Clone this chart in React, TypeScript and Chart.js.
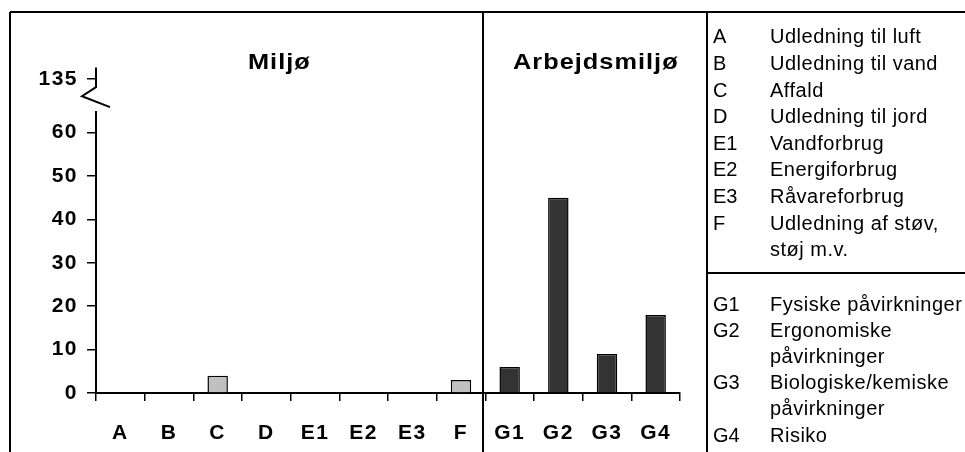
import React, { useEffect, useRef } from "react";
import { Chart, registerables } from "chart.js";

Chart.register(...registerables);

// ---- data ----
const categories = ["A", "B", "C", "D", "E1", "E2", "E3", "F", "G1", "G2", "G3", "G4"];
const values = [0, 0, 4, 0, 0, 0, 0, 3, 6, 45, 9, 18];
const groupOf = ["env", "env", "env", "env", "env", "env", "env", "env", "work", "work", "work", "work"];
const yTickValues = [0, 10, 20, 30, 40, 50, 60];
const breakTickValue = 72.4;
const breakTickLabel = "135";
const yMax = 75;
const breakFrom = 70.5;
const breakTo = 65;
const sectionTitles = ["Miljø", "Arbejdsmiljø"];
const legendTopCodes = ["A", "B", "C", "D", "E1", "E2", "E3", "F", ""];
const legendTopTexts = [
  "Udledning til luft",
  "Udledning til vand",
  "Affald",
  "Udledning til jord",
  "Vandforbrug",
  "Energiforbrug",
  "Råvareforbrug",
  "Udledning af støv,",
  "støj m.v.",
];
const legendBottomCodes = ["G1", "G2", "", "G3", "", "G4"];
const legendBottomTexts = [
  "Fysiske påvirkninger",
  "Ergonomiske",
  "påvirkninger",
  "Biologiske/kemiske",
  "påvirkninger",
  "Risiko",
];

const envColor = "#c0c0c0";
const workColor = "#333333";
const FONT = "'Liberation Sans', Arial, Helvetica, sans-serif";

const spacingPlugin = {
  id: "tickSpacing",
  beforeDraw(chart: any) {
    (chart.ctx as any).letterSpacing = "1.5px";
  },
  beforeDatasetsDraw(chart: any) {
    (chart.ctx as any).letterSpacing = "0px";
  },
};

const framePlugin = {
  id: "frame",
  afterDraw(chart: any) {
    const ctx = chart.ctx as CanvasRenderingContext2D;
    (ctx as any).letterSpacing = "0px";
    const ys = chart.scales.y;
    const area = chart.chartArea;
    const line = (x1: number, y1: number, x2: number, y2: number) => {
      ctx.beginPath();
      ctx.moveTo(x1, y1);
      ctx.lineTo(x2, y2);
      ctx.stroke();
    };
    ctx.save();
    ctx.strokeStyle = "#000";
    ctx.lineWidth = 2;
    // outer frame and dividers
    line(10, 12, 965, 12);
    line(10, 12, 10, 452);
    line(483, 12, 483, 452);
    line(707, 12, 707, 452);
    line(707, 273, 965, 273);

    // y axis with break
    const ax = area.left;
    const pTop = area.top;
    const p1 = ys.getPixelForValue(breakFrom);
    const p2 = ys.getPixelForValue(breakTo);
    const pBot = ys.getPixelForValue(0);
    const gap = p2 - p1;
    ctx.beginPath();
    ctx.moveTo(ax, pTop);
    ctx.lineTo(ax, p1);
    ctx.lineTo(ax - 14, p1 + gap * 0.38);
    ctx.lineTo(ax + 14, p1 + gap * 0.84);
    ctx.stroke();
    ctx.beginPath();
    ctx.moveTo(ax, p2);
    ctx.lineTo(ax, pBot);
    ctx.stroke();

    // section titles (horizontally widened like the source)
    ctx.fillStyle = "#000";
    ctx.textBaseline = "alphabetic";
    ctx.textAlign = "left";
    ctx.font = `bold 22px ${FONT}`;
    const sx = 1.15;
    ctx.save();
    ctx.scale(sx, 1);
    (ctx as any).letterSpacing = "0.9px";
    ctx.fillText(sectionTitles[0], 248 / sx, 69);
    ctx.fillText(sectionTitles[1], 513 / sx, 69);
    (ctx as any).letterSpacing = "0px";
    ctx.restore();

    // legend
    ctx.font = `20px ${FONT}`;
    const step = 26.6;
    legendTopCodes.forEach((c, i) => {
      const yy = 43.3 + i * step;
      (ctx as any).letterSpacing = "0px";
      if (c) ctx.fillText(c, 713, yy);
      (ctx as any).letterSpacing = "0.5px";
      ctx.fillText(legendTopTexts[i], 770, yy);
    });
    const bottomBase = [310.5, 336.5, 363, 389, 415, 441.5];
    legendBottomCodes.forEach((c, i) => {
      const yy = bottomBase[i];
      (ctx as any).letterSpacing = "0px";
      if (c) ctx.fillText(c, 713, yy);
      (ctx as any).letterSpacing = "0.5px";
      ctx.fillText(legendBottomTexts[i], 770, yy);
    });
    (ctx as any).letterSpacing = "0px";
    ctx.restore();
  },
};

export default function App() {
  const canvasRef = useRef<HTMLCanvasElement | null>(null);

  useEffect(() => {
    const canvas = canvasRef.current;
    if (!canvas) return;
    const tickFont = { family: FONT, size: 21, weight: "bold" as const };
    const chart = new Chart(canvas, {
      type: "bar",
      data: {
        labels: categories,
        datasets: [
          {
            data: values,
            backgroundColor: groupOf.map((g) => (g === "env" ? envColor : workColor)),
            borderColor: "#000",
            borderWidth: 1.5,
            barPercentage: 0.42,
            categoryPercentage: 1,
          },
        ],
      },
      options: {
        responsive: false,
        animation: false,
        events: [],
        layout: { padding: { left: 0, right: 285, top: 67.6, bottom: 0 } },
        plugins: {
          legend: { display: false },
          tooltip: { enabled: false },
          title: { display: false },
        },
        scales: {
          x: {
            grid: { drawOnChartArea: false, tickLength: 8, color: "#000", lineWidth: 1.5, offset: true },
            border: { color: "#000", width: 2 },
            ticks: { color: "#000", font: tickFont, padding: 20, maxRotation: 0, autoSkip: false },
            afterFit: (s: any) => {
              s.height = 59;
            },
          },
          y: {
            min: 0,
            max: yMax,
            afterBuildTicks: (s: any) => {
              s.ticks = [...yTickValues, breakTickValue].map((v) => ({ value: v }));
            },
            ticks: {
              color: "#000",
              font: tickFont,
              padding: 9,
              callback: (v: any) => (v === breakTickValue ? breakTickLabel : String(v)),
            },
            grid: { drawOnChartArea: false, tickLength: 9, color: "#000", lineWidth: 1.5 },
            border: { display: false },
            afterFit: (s: any) => {
              s.width = 96;
            },
          },
        },
      },
      plugins: [spacingPlugin, framePlugin],
    });
    return () => chart.destroy();
  }, []);

  return (
    <div style={{ position: "fixed", left: 0, top: 0, width: 965, height: 452, background: "#fff" }}>
      <canvas ref={canvasRef} width={965} height={452} style={{ display: "block" }} />
    </div>
  );
}
